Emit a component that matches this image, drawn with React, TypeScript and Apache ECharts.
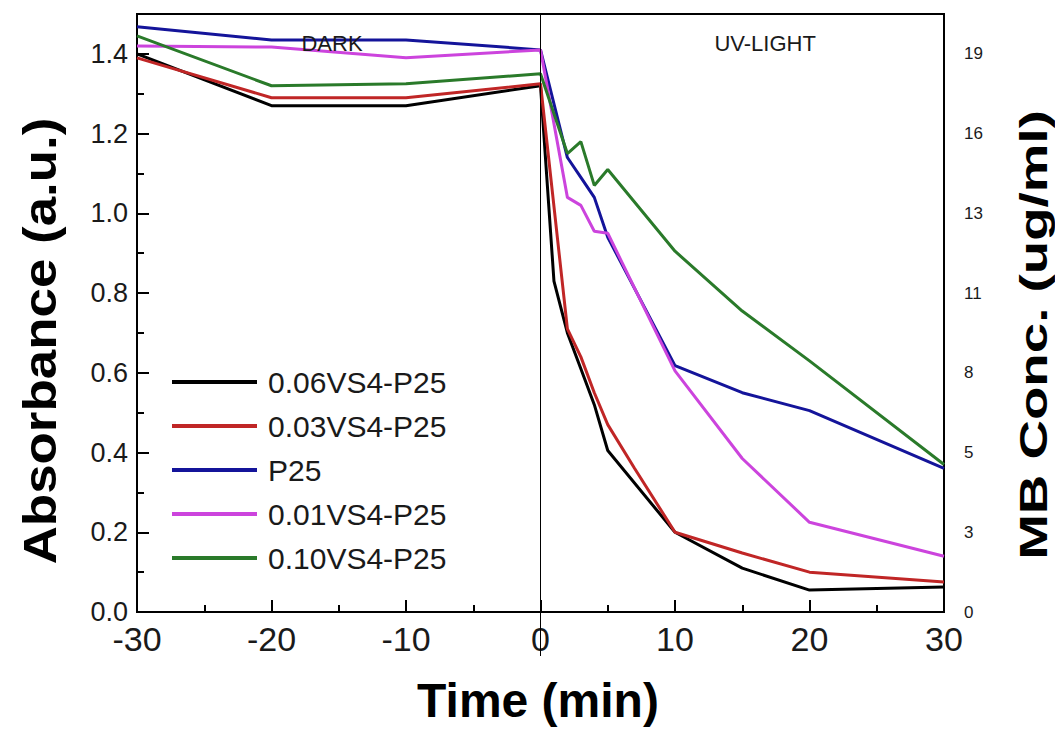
import React, { useEffect, useRef } from "react";
import * as echarts from "echarts";

// Sampling times (min) and absorbance readings for each catalyst
const timesBlack = [-30, -20, -10, 0, 1, 2, 3, 4, 5, 10, 15, 20, 30];
const absBlack = [1.40, 1.27, 1.27, 1.32, 0.83, 0.70, 0.61, 0.52, 0.405, 0.20, 0.11, 0.055, 0.063];

const timesRed = [-30, -20, -10, 0, 2, 3, 4, 5, 7, 10, 15, 20, 30];
const absRed = [1.39, 1.29, 1.29, 1.325, 0.71, 0.64, 0.55, 0.47, 0.36, 0.20, 0.148, 0.10, 0.075];

const timesBlue = [-30, -20, -10, 0, 2, 3, 4, 5, 10, 15, 20, 30];
const absBlue = [1.468, 1.435, 1.435, 1.41, 1.14, 1.09, 1.04, 0.94, 0.618, 0.55, 0.505, 0.36];

const timesMagenta = [-30, -20, -10, 0, 2, 3, 4, 5, 10, 15, 20, 30];
const absMagenta = [1.42, 1.417, 1.39, 1.41, 1.04, 1.02, 0.955, 0.95, 0.605, 0.385, 0.225, 0.14];

const timesGreen = [-30, -20, -10, 0, 2, 3, 4, 5, 10, 15, 20, 30];
const absGreen = [1.445, 1.32, 1.325, 1.35, 1.15, 1.18, 1.07, 1.11, 0.905, 0.755, 0.63, 0.37];

const seriesNames = ["0.06VS4-P25", "0.03VS4-P25", "P25", "0.01VS4-P25", "0.10VS4-P25"];
const seriesColors = ["#000000", "#c02626", "#14149a", "#cc44dd", "#2a7a2a"];
const seriesTimes = [timesBlack, timesRed, timesBlue, timesMagenta, timesGreen];
const seriesValues = [absBlack, absRed, absBlue, absMagenta, absGreen];

// Right-axis labels: MB concentration (ug/ml) at each absorbance tick
const concTickLabels = ["0", "3", "5", "8", "11", "13", "16", "19"];

const FONT = "'Liberation Sans', Arial, Helvetica, sans-serif";
const NARROW = "'Liberation Sans Narrow', 'Arial Narrow', 'Liberation Sans', Arial, sans-serif";

const centered = {
  align: "center",
  verticalAlign: "middle",
  textAlign: "center",
  textVerticalAlign: "middle",
};

export default function App() {
  const ref = useRef<HTMLDivElement>(null);

  useEffect(() => {
    if (!ref.current) return;
    const chart = echarts.init(ref.current, undefined, { renderer: "svg" });

    const series = seriesNames.map((name, i) => ({
      name,
      type: "line",
      data: seriesTimes[i].map((t, k) => [t, seriesValues[i][k]]),
      symbol: "none",
      lineStyle: { color: seriesColors[i], width: 3 },
      itemStyle: { color: seriesColors[i] },
      z: 3,
    }));

    chart.setOption({
      animation: false,
      backgroundColor: "#ffffff",
      grid: {
        left: 137,
        right: 111,
        top: 14,
        bottom: 120,
        show: true,
        borderColor: "#000",
        borderWidth: 2,
        backgroundColor: "transparent",
      },
      legend: {
        orient: "vertical",
        left: 172,
        top: 367,
        padding: 0,
        itemGap: 14,
        itemWidth: 85,
        itemHeight: 4,
        icon: "rect",
        textStyle: {
          fontFamily: FONT,
          fontSize: 30,
          color: "#1a1a1a",
          padding: [0, 0, 0, 6],
        },
        data: seriesNames,
      },
      xAxis: {
        type: "value",
        min: -30,
        max: 30,
        interval: 10,
        axisLine: { show: true, onZero: false, lineStyle: { color: "#000", width: 2 } },
        axisTick: { show: true, inside: true, length: 12, lineStyle: { color: "#000", width: 2 } },
        minorTick: { show: true, splitNumber: 2, length: 7, lineStyle: { color: "#000", width: 2 } },
        splitLine: { show: false },
        axisLabel: {
          fontFamily: NARROW,
          fontSize: 34,
          color: "#1a1a1a",
          margin: 10,
        },
      },
      yAxis: [
        {
          type: "value",
          position: "left",
          min: 0,
          max: 1.5,
          interval: 0.2,
          axisLine: { show: true, onZero: false, lineStyle: { color: "#000", width: 2 } },
          axisTick: { show: true, inside: true, length: 12, lineStyle: { color: "#000", width: 2 } },
          minorTick: { show: true, splitNumber: 2, length: 7, lineStyle: { color: "#000", width: 2 } },
          splitLine: { show: false },
          axisLabel: {
            showMaxLabel: false,
            fontFamily: FONT,
            fontSize: 27,
            color: "#1a1a1a",
            margin: 9,
            formatter: (v: number) => v.toFixed(1),
          },
        },
        {
          type: "value",
          position: "right",
          min: 0,
          max: 1.5,
          interval: 0.2,
          axisLine: { show: true, onZero: false, lineStyle: { color: "#000", width: 2 } },
          axisTick: { show: false },
          splitLine: { show: false },
          axisLabel: {
            showMaxLabel: false,
            fontFamily: FONT,
            fontSize: 17,
            color: "#1a1a1a",
            margin: 20,
            formatter: (v: number) => concTickLabels[Math.round(v / 0.2)] ?? "",
          },
        },
      ],
      series,
    });

    // Annotations placed through the axis scales
    const px = (t: number, v: number) =>
      chart.convertToPixel({ xAxisIndex: 0, yAxisIndex: 0 }, [t, v]) as number[];
    const top = px(0, 1.5);
    const bottom = px(0, 0);
    const dark = px(-15.5, 1.425);
    const uv = px(16.7, 1.425);

    chart.setOption({
      graphic: [
        {
          type: "line",
          shape: { x1: top[0], y1: top[1], x2: bottom[0], y2: bottom[1] + 44 },
          style: { stroke: "#000", lineWidth: 1 },
          z: 10,
        },
        {
          type: "text",
          x: dark[0],
          y: dark[1],
          style: { text: "DARK", fontFamily: FONT, fontSize: 22, fill: "#1a1a1a", ...centered },
          z: 10,
        },
        {
          type: "text",
          x: uv[0],
          y: uv[1],
          style: { text: "UV-LIGHT", fontFamily: FONT, fontSize: 22, fill: "#1a1a1a", ...centered },
          z: 10,
        },
        {
          type: "text",
          x: 40,
          y: 341,
          rotation: Math.PI / 2,
          scaleX: 1.15,
          style: {
            text: "Absorbance (a.u.)",
            fontFamily: FONT,
            fontWeight: "bold",
            fontSize: 46,
            fill: "#000",
            ...centered,
          },
        },
        {
          type: "text",
          x: 1034,
          y: 335,
          rotation: Math.PI / 2,
          scaleX: 1.44,
          style: {
            text: "MB Conc. (ug/ml)",
            fontFamily: FONT,
            fontWeight: "bold",
            fontSize: 38,
            fill: "#000",
            ...centered,
          },
        },
        {
          type: "text",
          x: 538,
          y: 700,
          style: {
            text: "Time (min)",
            fontFamily: FONT,
            fontWeight: "bold",
            fontSize: 48,
            fill: "#000",
            ...centered,
          },
        },
      ],
    });

    return () => chart.dispose();
  }, []);

  return (
    <div
      ref={ref}
      style={{ position: "absolute", left: 0, top: 0, width: 1055, height: 732 }}
    />
  );
}
